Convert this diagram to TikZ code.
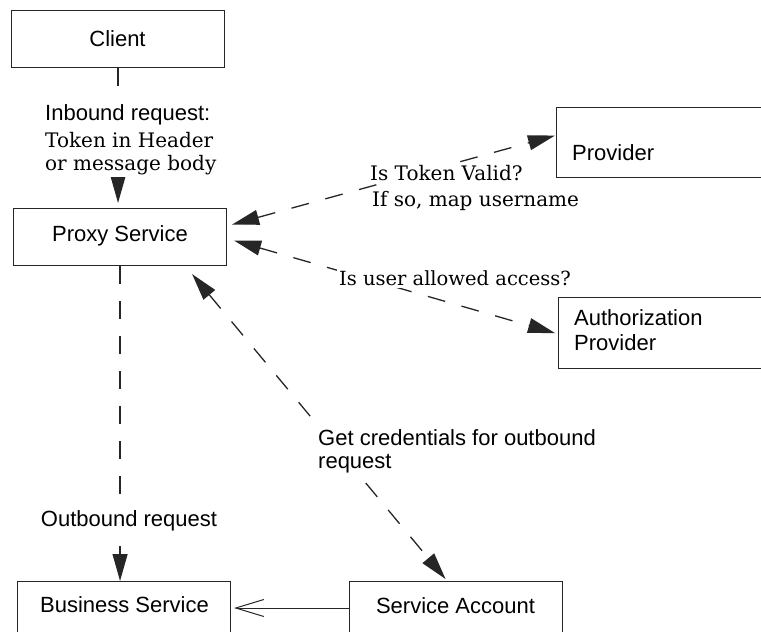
\documentclass[tikz,border=0pt]{standalone}
\usepackage{fontspec}
\newfontfamily\lsans{Liberation Sans}
\newfontfamily\lserif{DejaVu Serif}
\usetikzlibrary{arrows.meta,calc}
\begin{document}
\begin{tikzpicture}[x=1pt,y=-1pt,
  box/.style={draw=black!85,line width=1.1pt,rectangle,inner sep=0pt,anchor=north west},
  sanstext/.style={font=\lsans\fontsize{22}{25}\selectfont,inner sep=0pt},
  seriftext/.style={font=\lserif\fontsize{20}{27}\selectfont},
  dline/.style={draw=black!85,line width=1.3pt,dash pattern=on 18pt off 17pt},
  onehead/.style={-{Triangle[length=27pt,width=15pt]}},
  twohead/.style={{Triangle[length=27pt,width=15pt]}-{Triangle[length=27pt,width=15pt]}},
  lbl/.style={fill=white,inner sep=2pt,align=left}
]
\useasboundingbox (0,0) rectangle (761,632);
\begin{scope}
\clip (0,0) rectangle (761,632);
% boxes
\node[box,minimum width=213pt,minimum height=57pt] (client) at (11,10) {};
\node[box,minimum width=213pt,minimum height=57pt] (proxy) at (13,208) {};
\node[box,minimum width=320pt,minimum height=70pt] (provider) at (556,107) {};
\node[box,minimum width=320pt,minimum height=71pt] (auth) at (558,297) {};
\node[box,minimum width=213pt,minimum height=60pt] (business) at (17,581) {};
\node[box,minimum width=213pt,minimum height=60pt] (account) at (349,581) {};
\end{scope}
% box texts
\node[sanstext] (tclient) at (117.5,39) {Client};
\node[sanstext] (tproxy) at (120,236) {Proxy Service};
\node[sanstext,anchor=west] (tprovider) at (572,153) {Provider};
\node[sanstext,anchor=west,align=left] (tauth) at (574,330) {Authorization\\Provider};
\node[sanstext] (tbusiness) at (124.5,605) {Business Service};
\node[sanstext] (taccount) at (455.5,606) {Service Account};
% connectors
\draw[dline,onehead,shorten >=5pt] (client.south) -- (client.south |- proxy.north);
\draw[dline,onehead] (proxy.south) -- (proxy.south |- business.north);
\draw[dline,twohead] ([xshift=5pt,yshift=12.5pt]proxy.east) -- ([xshift=-1pt,yshift=7pt]provider.west);
\draw[dline,twohead] ([xshift=7pt,yshift=-3.5pt]proxy.east) -- ([xshift=-3pt]auth.west);
\draw[dline,twohead] ([xshift=-35pt,yshift=-8pt]proxy.south east) -- ([xshift=-10.5pt,yshift=2pt]account.north);
\draw[black!85,line width=1pt,-{Straight Barb[length=28pt,width=17pt,line width=1pt]}] (account.west |- 0,608) -- ([xshift=3pt]business.east |- 0,608);
% labels
\node[lbl,anchor=north west,font=\fontsize{20}{27}\selectfont] (linbound) at (43,102)
  {{\lsans\fontsize{22}{27}\selectfont Inbound request:}\\
   {\lserif Token in Header}\\[-4pt]
   {\lserif or message body}};
\node[lbl,seriftext,anchor=west] (ltoken1) at (368,173) {Is Token Valid?};
\node[lbl,seriftext,anchor=west] (ltoken2) at (370,201) {If so, map username};
\node[lbl,seriftext,font=\lserif\fontsize{19.5}{27}\selectfont] (lallowed) at (455,278) {Is user allowed access?};
\node[lbl,anchor=west,font=\lsans\fontsize{22}{23}\selectfont] (lcred) at (316,451) {Get credentials for outbound\\request};
\node[lbl,font=\lsans\fontsize{22}{25}\selectfont] (lout) at (129,521) {Outbound request};
\end{tikzpicture}
\end{document}
